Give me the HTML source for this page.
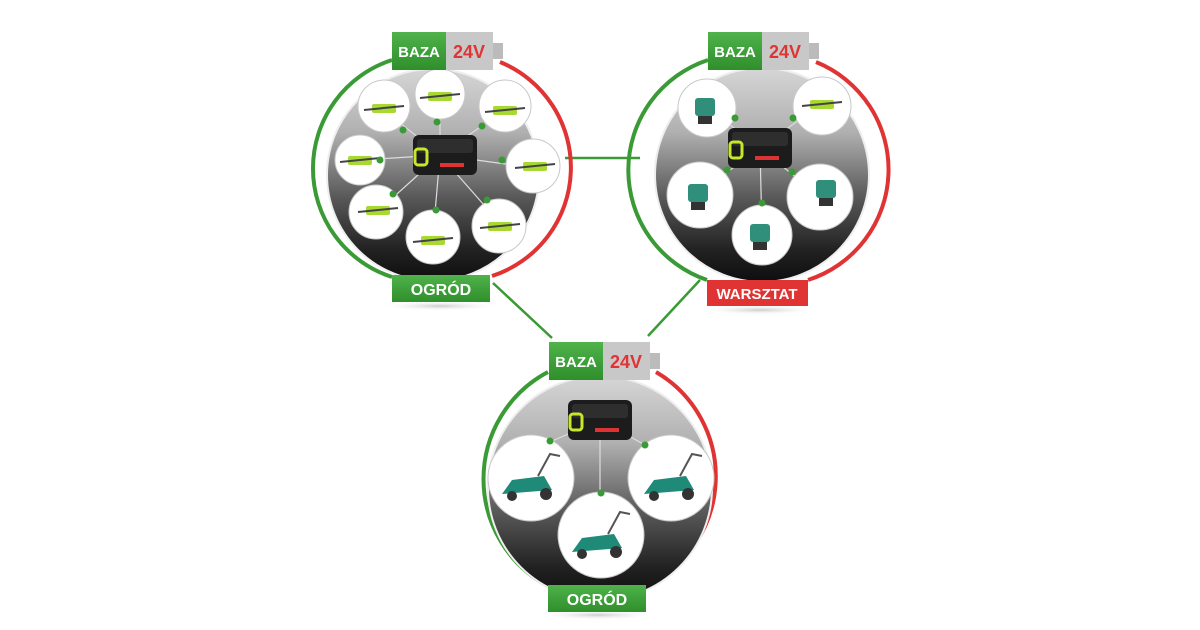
<!DOCTYPE html>
<html><head><meta charset="utf-8"><style>
html,body{margin:0;padding:0;background:#fff;width:1200px;height:630px;overflow:hidden}
text{font-family:"Liberation Sans",sans-serif;font-weight:bold}
</style></head><body>
<svg width="1200" height="630" viewBox="0 0 1200 630" xmlns="http://www.w3.org/2000/svg">
<defs>
<linearGradient id="g" x1="0" y1="0" x2="0" y2="1">
<stop offset="0" stop-color="#d6d6d6"/><stop offset="0.3" stop-color="#b0b0b0"/><stop offset="0.6" stop-color="#5a5a5a"/><stop offset="0.85" stop-color="#222"/><stop offset="1" stop-color="#0e0e0e"/>
</linearGradient>
<linearGradient id="gg" x1="0" y1="0" x2="0" y2="1"><stop offset="0" stop-color="#4fb24a"/><stop offset="1" stop-color="#2f8f2c"/></linearGradient>
<radialGradient id="sh"><stop offset="0" stop-color="#ccc"/><stop offset="1" stop-color="#fff" stop-opacity="0"/></radialGradient>
<g id="bat">
<rect x="-32" y="-20" width="64" height="40" rx="6" fill="#1c1c1c"/>
<rect x="-28" y="-16" width="56" height="14" rx="3" fill="#2e2e2e"/>
<rect x="-30" y="-6" width="12" height="16" rx="3" fill="none" stroke="#c6e82a" stroke-width="3"/>
<rect x="-5" y="8" width="24" height="4" fill="#d33"/>
</g>
<g id="tg"><rect x="-12" y="-4" width="24" height="9" rx="2" fill="#a8d832"/><line x1="-20" y1="2" x2="20" y2="-2" stroke="#444" stroke-width="2"/></g>
<g id="tw"><rect x="-10" y="-12" width="20" height="18" rx="3" fill="#2f8f7a"/><rect x="-7" y="6" width="14" height="8" fill="#333"/></g>
<g id="mw"><path d="M-28 12 L-18 -2 L14 -6 L22 8 Z" fill="#1f8a78"/><circle cx="-18" cy="14" r="5" fill="#333"/><circle cx="16" cy="12" r="6" fill="#333"/><path d="M8 -6 L20 -28 L30 -26" fill="none" stroke="#555" stroke-width="2"/></g>
</defs>
<g stroke="#3a9a36" stroke-width="2.5">
<line x1="565" y1="158" x2="640" y2="158"/>
<line x1="493" y1="283" x2="552" y2="338"/>
<line x1="700" y1="280" x2="648" y2="336"/>
</g>
<!-- circle 1 -->
<g>
<ellipse cx="440" cy="306" rx="60" ry="5" fill="url(#sh)"/>
<path d="M392 60 A114 114 0 0 0 392 277" fill="none" stroke="#3a9a36" stroke-width="4"/>
<path d="M500 62 A114 114 0 0 1 492 276" fill="none" stroke="#e03434" stroke-width="4"/>
<circle cx="433" cy="175" r="106" fill="url(#g)" stroke="#eee" stroke-width="2"/>
<g stroke="#ddd" stroke-width="1.2">
<line x1="440" y1="155" x2="384" y2="110"/><line x1="440" y1="155" x2="440" y2="98"/><line x1="440" y1="155" x2="505" y2="110"/><line x1="440" y1="155" x2="362" y2="160"/><line x1="440" y1="155" x2="534" y2="168"/><line x1="440" y1="155" x2="377" y2="212"/><line x1="440" y1="155" x2="433" y2="236"/><line x1="440" y1="155" x2="499" y2="222"/>
</g>
<g fill="#fff" stroke="#c8c8c8" stroke-width="1">
<circle cx="384" cy="106" r="26"/><circle cx="440" cy="94" r="25"/><circle cx="505" cy="106" r="26"/><circle cx="360" cy="160" r="25"/><circle cx="533" cy="166" r="27"/><circle cx="376" cy="212" r="27"/><circle cx="433" cy="237" r="27"/><circle cx="499" cy="226" r="27"/>
</g>
<use href="#tg" x="384" y="108"/><use href="#tg" x="440" y="96"/><use href="#tg" x="505" y="110"/><use href="#tg" x="360" y="160"/><use href="#tg" x="535" y="166"/><use href="#tg" x="378" y="210"/><use href="#tg" x="433" y="240"/><use href="#tg" x="500" y="226"/>
<g fill="#3a9a36"><circle cx="403" cy="130" r="3.5"/><circle cx="437" cy="122" r="3.5"/><circle cx="482" cy="126" r="3.5"/><circle cx="380" cy="160" r="3.5"/><circle cx="502" cy="160" r="3.5"/><circle cx="393" cy="194" r="3.5"/><circle cx="436" cy="210" r="3.5"/><circle cx="487" cy="200" r="3.5"/></g>
<use href="#bat" x="445" y="155"/>
<rect x="392" y="32" width="54" height="38" fill="url(#gg)"/><rect x="446" y="32" width="47" height="38" fill="#c8c8c8"/><rect x="493" y="43" width="10" height="16" fill="#bbb"/>
<text x="419" y="57" font-size="15" fill="#fff" text-anchor="middle">BAZA</text><text x="469" y="58" font-size="18" fill="#e03434" text-anchor="middle">24V</text>
<rect x="392" y="275" width="98" height="27" fill="url(#gg)"/><text x="441" y="295" font-size="16" fill="#fff" text-anchor="middle">OGRÓD</text>
</g>
<!-- circle 2 -->
<g>
<ellipse cx="760" cy="310" rx="60" ry="5" fill="url(#sh)"/>
<path d="M708 60 A116 116 0 0 0 707 280" fill="none" stroke="#3a9a36" stroke-width="4"/>
<path d="M816 62 A116 116 0 0 1 808 280" fill="none" stroke="#e03434" stroke-width="4"/>
<circle cx="762" cy="175" r="107" fill="url(#g)" stroke="#eee" stroke-width="2"/>
<g stroke="#ddd" stroke-width="1.2"><line x1="760" y1="148" x2="708" y2="108"/><line x1="760" y1="148" x2="820" y2="105"/><line x1="760" y1="148" x2="699" y2="193"/><line x1="760" y1="148" x2="820" y2="197"/><line x1="760" y1="148" x2="762" y2="233"/></g>
<g fill="#fff" stroke="#c8c8c8" stroke-width="1"><circle cx="707" cy="108" r="29"/><circle cx="822" cy="106" r="29"/><circle cx="700" cy="195" r="33"/><circle cx="820" cy="197" r="33"/><circle cx="762" cy="235" r="30"/></g>
<use href="#tw" x="705" y="110"/><use href="#tg" x="822" y="104"/><use href="#tw" x="698" y="196"/><use href="#tw" x="826" y="192"/><use href="#tw" x="760" y="236"/>
<g fill="#3a9a36"><circle cx="735" cy="118" r="3.5"/><circle cx="793" cy="118" r="3.5"/><circle cx="727" cy="170" r="3.5"/><circle cx="792" cy="172" r="3.5"/><circle cx="762" cy="203" r="3.5"/></g>
<use href="#bat" x="760" y="148"/>
<rect x="708" y="32" width="54" height="38" fill="url(#gg)"/><rect x="762" y="32" width="47" height="38" fill="#c8c8c8"/><rect x="809" y="43" width="10" height="16" fill="#bbb"/>
<text x="735" y="57" font-size="15" fill="#fff" text-anchor="middle">BAZA</text><text x="785" y="58" font-size="18" fill="#e03434" text-anchor="middle">24V</text>
<rect x="707" y="280" width="101" height="26" fill="#e03434"/><text x="757" y="299" font-size="15" fill="#fff" text-anchor="middle">WARSZTAT</text>
</g>
<!-- circle 3 -->
<g>
<ellipse cx="598" cy="615" rx="60" ry="5" fill="url(#sh)"/>
<path d="M548 372 A121 121 0 0 0 548 586" fill="none" stroke="#3a9a36" stroke-width="4"/>
<path d="M656 372 A121 121 0 0 1 646 586" fill="none" stroke="#e03434" stroke-width="4"/>
<circle cx="600" cy="488" r="112" fill="url(#g)" stroke="#eee" stroke-width="2"/>
<g stroke="#ddd" stroke-width="1.2"><line x1="600" y1="420" x2="550" y2="442"/><line x1="600" y1="420" x2="600" y2="492"/><line x1="600" y1="420" x2="645" y2="445"/></g>
<g fill="#fff" stroke="#c8c8c8" stroke-width="1"><circle cx="531" cy="478" r="43"/><circle cx="601" cy="535" r="43"/><circle cx="671" cy="478" r="43"/></g>
<use href="#mw" x="530" y="482"/><use href="#mw" x="600" y="540"/><use href="#mw" x="672" y="482"/>
<g fill="#3a9a36"><circle cx="550" cy="441" r="3.5"/><circle cx="601" cy="493" r="3.5"/><circle cx="645" cy="445" r="3.5"/></g>
<use href="#bat" x="600" y="420"/>
<rect x="549" y="342" width="54" height="38" fill="url(#gg)"/><rect x="603" y="342" width="47" height="38" fill="#c8c8c8"/><rect x="650" y="353" width="10" height="16" fill="#bbb"/>
<text x="576" y="367" font-size="15" fill="#fff" text-anchor="middle">BAZA</text><text x="626" y="368" font-size="18" fill="#e03434" text-anchor="middle">24V</text>
<rect x="548" y="585" width="98" height="27" fill="url(#gg)"/><text x="597" y="605" font-size="16" fill="#fff" text-anchor="middle">OGRÓD</text>
</g>
</svg>
</body></html>
